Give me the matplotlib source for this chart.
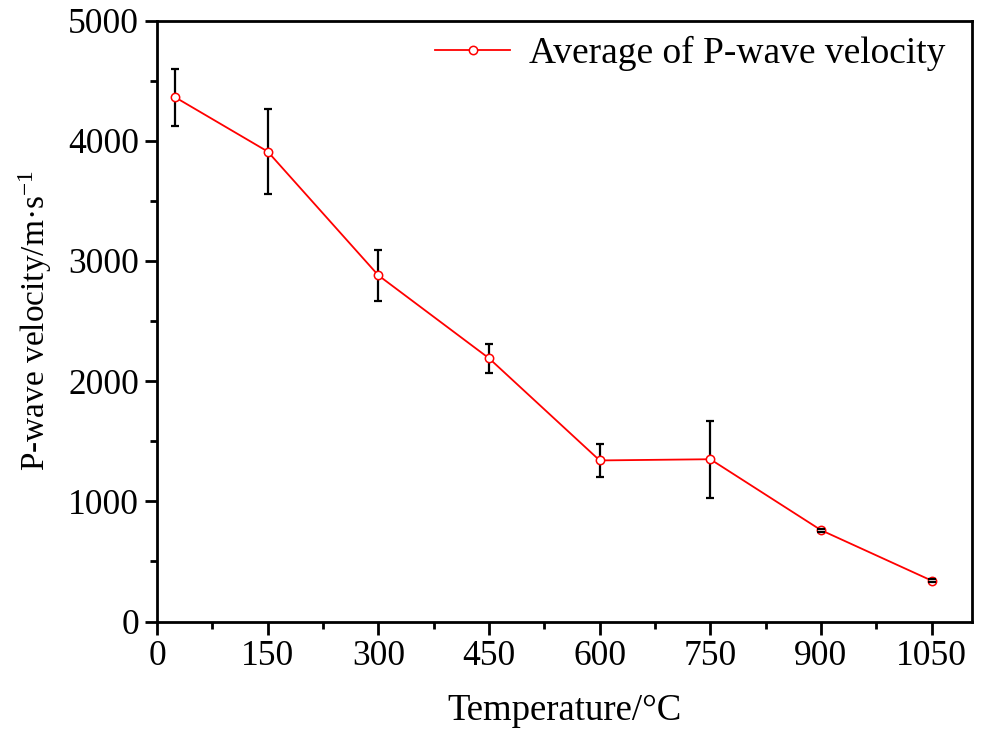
import matplotlib
matplotlib.use("Agg")
import matplotlib.pyplot as plt
from matplotlib.ticker import MultipleLocator

temperature = [25, 150, 300, 450, 600, 750, 900, 1050]
velocity = [4360, 3910, 2880, 2190, 1340, 1350, 760, 340]
error = [240, 355, 210, 120, 140, 320, 12, 12]
x_ticks = [0, 150, 300, 450, 600, 750, 900, 1050]
y_ticks = [0, 1000, 2000, 3000, 4000, 5000]

plt.rcParams['font.family'] = ['Liberation Serif', 'DejaVu Serif']
plt.rcParams['mathtext.fontset'] = 'custom'
plt.rcParams['mathtext.rm'] = 'Liberation Serif'
plt.rcParams['mathtext.it'] = 'Liberation Serif:italic'

fig = plt.figure(figsize=(9.86, 7.3), dpi=100)
ax = fig.add_axes([157/986, 1-621.5/730, (971.5-157)/986, (621.5-20.5)/730])

eb = ax.errorbar(temperature, velocity, yerr=error, fmt='none', ecolor='black',
                 elinewidth=1.6, capsize=2.7, capthick=1.6, zorder=2)
for cap in eb[1]:
    cap.set_zorder(4)
ax.plot(temperature, velocity, color='red', lw=1.3, marker='o', ms=6,
        mfc='white', mec='red', mew=1.1, zorder=3,
        label='Average of P-wave velocity')

ax.set_xlim(0, 1104)
ax.set_ylim(0, 5000)
ax.set_xticks(x_ticks)
ax.set_yticks(y_ticks)
ax.xaxis.set_minor_locator(MultipleLocator(75))
ax.yaxis.set_minor_locator(MultipleLocator(500))
ax.tick_params(which='major', direction='out', length=9, width=2, labelsize=25.5, pad=4)
ax.tick_params(which='minor', direction='out', length=5, width=2)
for s in ax.spines.values():
    s.set_linewidth(2)

ax.set_xlabel('Temperature/°C', fontsize=26.5, labelpad=15)
ax.set_ylabel(r'P-wave velocity/m·s$^{\mathdefault{-1}}$', fontsize=24, labelpad=10)

leg = ax.legend(loc='upper right', bbox_to_anchor=(0.9865, 1.0), frameon=False,
                fontsize=27, handlelength=2.0, borderaxespad=0.1,
                handletextpad=0.5, borderpad=0.3)

fig.savefig('out.png', dpi=100)
